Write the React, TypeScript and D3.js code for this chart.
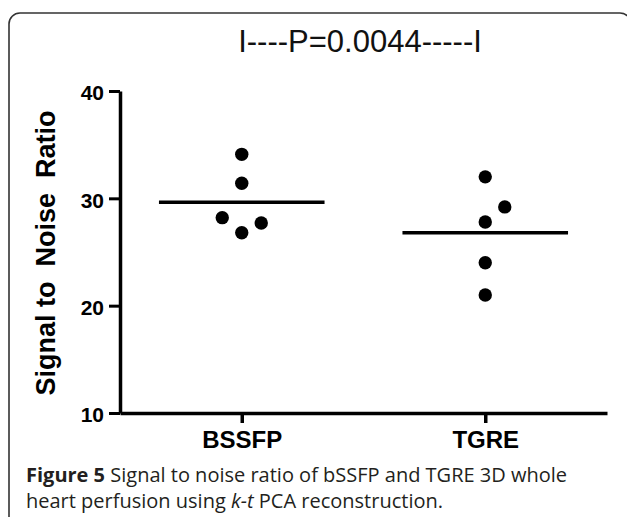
import React, { useEffect, useRef } from 'react';
import * as d3 from 'd3';

const groups = ['BSSFP', 'TGRE'];
const bssfpValues = [34.1, 31.4, 28.2, 27.7, 26.8];
const tgreValues = [32.0, 29.2, 27.8, 24.0, 21.0];
// column offsets of the scatter (GraphPad style), in dot widths
const bssfpCols = [0, 0, -1, 1, 0];
const tgreCols = [0, 1, 0, 0, 0];
const yTicks = [10, 20, 30, 40];
const pLabel = 'I----P=0.0044-----I';

const W = 627;
const H = 517;

export default function App() {
  const svgRef = useRef<SVGSVGElement>(null);

  useEffect(() => {
    if (!svgRef.current) return;
    const svg = d3.select(svgRef.current);
    svg.selectAll('*').remove();

    const chartFont = '"Liberation Sans", Arial, sans-serif';
    const capFont = '"Open Sans", "Noto Sans", sans-serif';

    // frame
    svg.append('rect')
      .attr('x', 9).attr('y', 13)
      .attr('width', 622).attr('height', 530)
      .attr('rx', 11)
      .attr('fill', 'none')
      .attr('stroke', '#333')
      .attr('stroke-width', 1.6);

    const x = d3.scalePoint<string>()
      .domain(groups)
      .range([120, 607])
      .padding(0.5);

    const y = d3.scaleLinear()
      .domain([10, 40])
      .range([413, 91]);

    // p-value bar
    svg.append('text')
      .attr('x', 360).attr('y', 52)
      .attr('text-anchor', 'middle')
      .style('font-family', chartFont)
      .style('font-size', '31px')
      .attr('fill', '#111')
      .text(pLabel);

    const yAxis = svg.append('g')
      .attr('transform', 'translate(120,0)')
      .call(d3.axisLeft(y).tickValues(yTicks).tickSize(11).tickSizeOuter(0).tickPadding(5));
    yAxis.select('.domain').attr('stroke', '#000').attr('stroke-width', 3.5);
    yAxis.selectAll('.tick line').attr('stroke', '#000').attr('stroke-width', 3);
    yAxis.selectAll('text')
      .attr('fill', '#000')
      .attr('dy', '0.42em')
      .style('font-family', chartFont)
      .style('font-weight', 'bold')
      .style('font-size', '21px');

    const xAxis = svg.append('g')
      .attr('transform', 'translate(0,413)')
      .call(d3.axisBottom(x).tickSize(10).tickSizeOuter(0).tickPadding(8));
    xAxis.select('.domain').attr('stroke', '#000').attr('stroke-width', 3.5);
    xAxis.selectAll('.tick line').attr('stroke', '#000').attr('stroke-width', 3.5);
    xAxis.selectAll('text')
      .attr('fill', '#000')
      .style('font-family', chartFont)
      .style('font-weight', 'bold')
      .style('font-size', '24px');

    // y label
    svg.append('text')
      .attr('transform', 'translate(55,253) rotate(-90)')
      .attr('text-anchor', 'middle')
      .style('font-family', chartFont)
      .style('font-weight', 'bold')
      .style('font-size', '27px')
      .style('white-space', 'pre')
      .attr('fill', '#000')
      .text('Signal to  Noise  Ratio');

    const series = [
      { key: 'BSSFP', values: bssfpValues, cols: bssfpCols },
      { key: 'TGRE', values: tgreValues, cols: tgreCols },
    ];
    const r = 6.7;
    const colStep = 19.5;
    const half = x.step() * 0.34;

    const g = svg.append('g');
    series.forEach(s => {
      const cx = x(s.key) || 0;
      g.selectAll(null)
        .data(s.values)
        .join('circle')
        .attr('cx', (d, i) => cx + s.cols[i] * colStep)
        .attr('cy', d => y(d))
        .attr('r', r)
        .attr('fill', '#000');
      const m = d3.mean(s.values) || 0;
      g.append('line')
        .attr('x1', cx - half).attr('x2', cx + half)
        .attr('y1', y(m)).attr('y2', y(m))
        .attr('stroke', '#000')
        .attr('stroke-width', 3.5);
    });

    // caption
    const cap = svg.append('g')
      .style('font-family', capFont)
      .style('font-size', '20px')
      .attr('fill', '#231f20');
    const l1 = cap.append('text').attr('x', 26).attr('y', 482);
    l1.append('tspan').style('font-weight', 'bold').text('Figure 5');
    l1.append('tspan').text(' Signal to noise ratio of bSSFP and TGRE 3D whole');
    const l2 = cap.append('text').attr('x', 26).attr('y', 508);
    l2.append('tspan').text('heart perfusion using ');
    l2.append('tspan').style('font-style', 'italic').text('k-t');
    l2.append('tspan').text(' PCA reconstruction.');
  }, []);

  return (
    <svg
      ref={svgRef}
      width={W}
      height={H}
      style={{ position: 'absolute', left: 0, top: 0, background: '#fff' }}
    />
  );
}
